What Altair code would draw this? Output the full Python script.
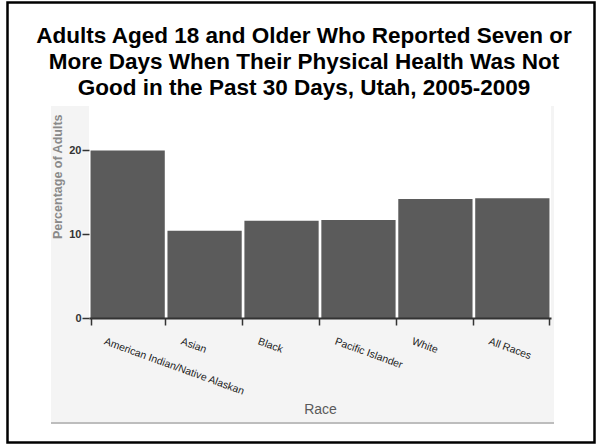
import altair as alt
import pandas as pd

# Share of adults (18+) reporting 7+ days of poor physical health, Utah 2005-2009
races = [
    "American Indian/Native Alaskan",
    "Asian",
    "Black",
    "Pacific Islander",
    "White",
    "All Races",
]
percent = [20.0, 10.4, 11.6, 11.7, 14.2, 14.3]

title_lines = [
    "Adults Aged 18 and Older Who Reported Seven or",
    "More Days When Their Physical Health Was Not",
    "Good in the Past 30 Days, Utah, 2005-2009",
]

df = pd.DataFrame({"Race": races, "Percent": percent})
one = pd.DataFrame({"k": [0]})

W, H = 462, 212          # plot area
LEFT, TOP = 89, 106      # plot origin inside the 596x445 canvas
NARROW = "Liberation Sans Narrow, Liberation Sans, sans-serif"

# outer frame of the slide
frame = alt.Chart(one).mark_rect(
    fill="white", stroke="black", strokeWidth=2.5
).encode(
    x=alt.value(7.5 - LEFT), x2=alt.value(594.5 - LEFT),
    y=alt.value(2.5 - TOP), y2=alt.value(442.5 - TOP),
)

# light grey panel behind the chart
panel = alt.Chart(one).mark_rect(fill="#f4f4f4").encode(
    x=alt.value(51 - LEFT), x2=alt.value(554 - LEFT),
    y=alt.value(0), y2=alt.value(422 - TOP),
)
panel_edge = alt.Chart(one).mark_rule(color="#bdbdbd", strokeWidth=2).encode(
    x=alt.value(51 - LEFT), x2=alt.value(554 - LEFT),
    y=alt.value(423 - TOP),
)

# white plotting area
plot_bg = alt.Chart(one).mark_rect(fill="white").encode(
    x=alt.value(0), x2=alt.value(W), y=alt.value(0), y2=alt.value(H),
)

title = alt.Chart(one).mark_text(
    align="center", baseline="alphabetic", font="Liberation Sans",
    fontSize=22.5, fontWeight="bold", color="black",
    lineBreak="\n", lineHeight=26,
).encode(
    x=alt.value(304 - LEFT), y=alt.value(43 - TOP),
    text=alt.value("\n".join(title_lines)),
)

bars = alt.Chart(df).mark_bar(color="#5b5b5b").encode(
    x=alt.X(
        "Race:N", sort=None,
        scale=alt.Scale(paddingInner=0.035, paddingOuter=0.02),
        axis=alt.Axis(
            title="Race", titleFont=NARROW, titleFontSize=14,
            titleFontWeight="normal", titleColor="#5a5a5a",
            titleY=95, titleBaseline="alphabetic",
            labelAngle=20, labelAlign="left", labelBaseline="top",
            labelOffset=-22, labelPadding=11, labelFont=NARROW,
            labelFontSize=10.5, labelColor="#222", labelOverlap=False,
            tickBand="extent", tickSize=7, tickColor="#333", tickWidth=1.5,
            domainColor="#333", domainWidth=2, zindex=1,
        ),
    ),
    y=alt.Y(
        "Percent:Q",
        scale=alt.Scale(domain=[0, 25.3], nice=False),
        axis=alt.Axis(
            values=[0, 10, 20], title="Percentage of Adults",
            titleFont=NARROW, titleFontSize=12.5, titleFontWeight="bold",
            titleColor="#8a8a8a", titleAnchor="end", titleY=8,
            titleX=-32, titleBaseline="middle",
            labelFont=NARROW, labelFontSize=11, labelFontWeight="bold",
            labelColor="#333", labelPadding=1,
            tickSize=7, tickColor="#333", tickWidth=1.5,
            domain=False, grid=False, zindex=1,
        ),
    ),
)

chart = alt.layer(frame, panel, panel_edge, plot_bg, title, bars).properties(
    width=W, height=H,
    autosize=alt.AutoSizeParams(type="none"),
    padding={"left": LEFT, "top": TOP, "right": 596 - LEFT - W, "bottom": 445 - TOP - H},
    background="white",
).configure_view(strokeWidth=0)

chart.save("out.html", embed_options={"renderer": "svg", "actions": False})
